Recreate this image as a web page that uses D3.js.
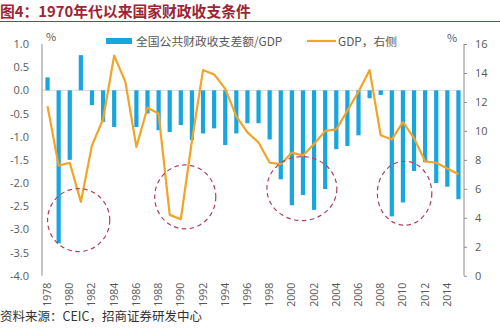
<!DOCTYPE html>
<html>
<head>
<meta charset="utf-8">
<script src="https://cdn.jsdelivr.net/npm/d3@7/dist/d3.min.js"></script>
<style>
  html, body { margin: 0; padding: 0; background: #fff; }
  svg { display: block; font-family: "Noto Sans CJK SC", "Noto Sans", sans-serif; }
</style>
</head>
<body>
<svg id="chart" width="500" height="328"></svg>
<script>
// Years on the category axis
const years = d3.range(1978, 2016);
// General public budget balance as % of GDP (left axis)
const balance = [
  0.28, -3.30, -1.50, 0.76, -0.32, -0.68, -0.79, 0.00, -0.79, -0.50,
  -0.86, -0.90, -0.75, -1.07, -0.93, -0.82, -1.18, -0.93, -0.71, -0.71,
  -1.06, -1.92, -2.48, -2.26, -2.58, -2.13, -1.27, -1.20, -0.97, -0.17,
  -0.10, -2.72, -2.42, -1.74, -1.55, -2.00, -2.08, -2.35
];
// Real GDP growth, % (right axis)
const gdp = [
  11.7, 7.6, 7.8, 5.1, 9.0, 10.8, 15.2, 13.4, 8.9, 11.6,
  11.2, 4.2, 3.9, 9.3, 14.2, 13.9, 12.9, 11.0, 9.9, 9.2,
  7.8, 7.7, 8.5, 8.3, 9.1, 10.0, 10.1, 11.4, 12.7, 14.2,
  9.7, 9.4, 10.6, 9.5, 7.9, 7.8, 7.4, 7.0
];
// Tick values
const leftTicks = d3.range(-4, 1.0001, 0.5);
const rightTicks = d3.range(0, 17, 2);
const yearTicks = d3.range(1978, 2015, 2);
// Highlighted periods of fiscal expansion (centre year / value, half-spans)
const highlights = [
  { year: 1980.8, value: -2.80, spanYears: 2.8, spanValue: 0.68 },
  { year: 1990.4, value: -2.30, spanYears: 2.75, spanValue: 0.69 },
  { year: 2000.9, value: -2.12, spanYears: 3.15, spanValue: 0.69 },
  { year: 2010.15, value: -2.22, spanYears: 2.45, spanValue: 0.69 }
];

const svg = d3.select("#chart");
const plotL = 42, plotR = 464, plotT = 44, plotB = 275.7;

const x = d3.scaleBand().domain(years).range([plotL, plotR]).paddingInner(0.62).paddingOuter(0.31);
const step = x.step();
const xc = y => x(1978) + x.bandwidth() / 2 + (y - 1978) * step;
const yL = d3.scaleLinear().domain([-4, 1]).range([plotB, plotT]);
const yR = d3.scaleLinear().domain([0, 16]).range([plotB, plotT]);

const textGray = "#595959";
const axisGray = "#8c8c8c";
const barBlue = "#18a6df";
const lineOrange = "#f3a325";

// Title and rule
svg.append("text").attr("x", 0).attr("y", 17)
  .attr("fill", "#9e2434").attr("font-size", 14.8).attr("font-weight", "bold")
  .text("图4：1970年代以来国家财政收支条件");
svg.append("line").attr("x1", 0).attr("x2", 500).attr("y1", 21.5).attr("y2", 21.5)
  .attr("stroke", "#a8324a").attr("stroke-width", 1);

// Zero reference line
svg.append("line").attr("x1", plotL).attr("x2", plotR - 4)
  .attr("y1", yL(0)).attr("y2", yL(0))
  .attr("stroke", "#d9d9d9").attr("stroke-width", 1);

// Bars
svg.append("g").selectAll("rect").data(years).join("rect")
  .attr("x", (d) => x(d))
  .attr("width", x.bandwidth())
  .attr("y", (d, i) => yL(Math.max(0, balance[i])))
  .attr("height", (d, i) => Math.abs(yL(balance[i]) - yL(0)))
  .attr("fill", barBlue);

// GDP line
const line = d3.line()
  .x((d, i) => x(years[i]) + x.bandwidth() / 2)
  .y(d => yR(d));
svg.append("path").datum(gdp).attr("d", line)
  .attr("fill", "none").attr("stroke", lineOrange).attr("stroke-width", 2.2)
  .attr("stroke-linejoin", "round");

// Dashed highlight circles
svg.append("g").selectAll("ellipse").data(highlights).join("ellipse")
  .attr("cx", d => xc(d.year))
  .attr("cy", d => yL(d.value))
  .attr("rx", d => d.spanYears * step)
  .attr("ry", d => yL(0) - yL(d.spanValue))
  .attr("fill", "none").attr("stroke", "#b0405a").attr("stroke-width", 1.2)
  .attr("stroke-dasharray", "4.5,3.5");

// Left axis
const fmtL = v => d3.format(".1f")(v).replace("−", "-");
const gL = svg.append("g").attr("transform", `translate(${plotL},0)`)
  .call(d3.axisLeft(yL).tickValues(leftTicks).tickSize(0).tickPadding(13).tickFormat(fmtL));
gL.select(".domain").attr("stroke", axisGray).attr("d", `M0,${plotT}V${plotB}`);
gL.selectAll("text").attr("fill", textGray).attr("font-size", 11)
  .attr("font-family", "'Open Sans', 'Noto Sans', sans-serif");

// Right axis
const gR = svg.append("g").attr("transform", `translate(${plotR},0)`)
  .call(d3.axisRight(yR).tickValues(rightTicks).tickSize(3).tickPadding(8));
gR.select(".domain").attr("stroke", axisGray).attr("d", `M0,${plotT}V${plotB}`);
gR.selectAll("line").attr("stroke", axisGray);
gR.selectAll("text").attr("fill", textGray).attr("font-size", 11)
  .attr("font-family", "'Open Sans', 'Noto Sans', sans-serif");

// Year labels (rotated)
svg.append("g").selectAll("text").data(yearTicks).join("text")
  .attr("transform", d => `translate(${x(d) + x.bandwidth() / 2 + 3.5},${plotB + 7}) rotate(-90)`)
  .attr("text-anchor", "end")
  .attr("fill", textGray).attr("font-size", 10.5)
  .attr("font-family", "'Open Sans', 'Noto Sans', sans-serif")
  .text(d => d);

// Unit markers
svg.append("text").attr("x", 46).attr("y", 41).attr("fill", textGray).attr("font-size", 11).text("%");
svg.append("text").attr("x", 447).attr("y", 42).attr("fill", textGray).attr("font-size", 11).text("%");

// Legend
svg.append("rect").attr("x", 106).attr("y", 38).attr("width", 26).attr("height", 6).attr("fill", barBlue);
svg.append("text").attr("x", 136).attr("y", 45.5).attr("fill", textGray).attr("font-size", 11.8)
  .text("全国公共财政收支差额/GDP");
svg.append("line").attr("x1", 307).attr("x2", 336).attr("y1", 41).attr("y2", 41)
  .attr("stroke", lineOrange).attr("stroke-width", 2.2);
svg.append("text").attr("x", 338).attr("y", 45.5).attr("fill", textGray).attr("font-size", 11.8)
  .text("GDP，右侧");

// Source note
svg.append("text").attr("x", 0).attr("y", 321).attr("fill", "#333").attr("font-size", 12.5)
  .text("资料来源：CEIC，招商证券研发中心");
</script>
</body>
</html>
